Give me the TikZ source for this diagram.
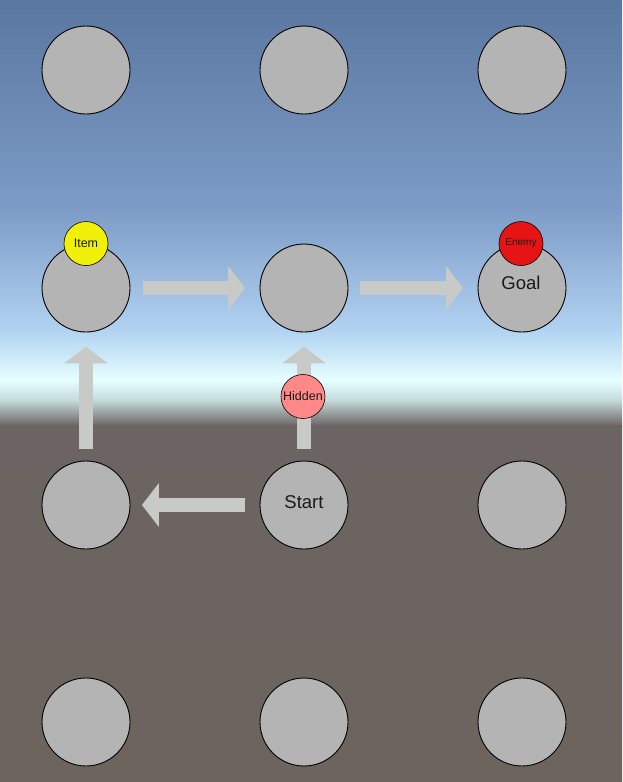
\documentclass[tikz,border=0pt]{standalone}
\usepackage{fontspec}
\setmainfont{Liberation Sans}
\usetikzlibrary{arrows.meta,calc}
\definecolor{skyTop}{HTML}{5A77A0}
\definecolor{skyMid}{HTML}{7D9CC7}
\definecolor{skyLow}{HTML}{B2D2F2}
\definecolor{skyGlow}{HTML}{E6FFFF}
\definecolor{skyHaze}{HTML}{C4DADA}
\definecolor{groundTop}{HTML}{6B6462}
\definecolor{groundLow}{HTML}{6D645E}
\definecolor{spotGrey}{HTML}{B4B4B4}
\definecolor{moveGrey}{HTML}{C8CAC8}
\definecolor{itemYellow}{HTML}{F0F00A}
\definecolor{enemyRed}{HTML}{E61414}
\definecolor{hiddenPink}{HTML}{FF8888}
\definecolor{textDark}{HTML}{1A1A1A}

\begin{document}
\begin{tikzpicture}[
    x=1pt, y=-1pt,
    spot/.style={circle, draw=black, line width=0.9pt, fill=spotGrey,
                 minimum size=88pt, inner sep=0pt},
    marker/.style={circle, draw=black, line width=0.6pt, minimum size=44pt,
                   inner sep=0pt, text=textDark, font=\fontsize{12.5}{13}\selectfont},
    tag/.style={text=textDark, font=\fontsize{18.5}{20}\selectfont},
    move/.style={draw=moveGrey, line width=14pt,
                 -{Triangle[length=17pt,width=44pt,line width=0pt]}}
]
\useasboundingbox (0,0) rectangle (622,782);

% -- sky and ground
\shade[top color=skyTop, bottom color=skyMid] (0,0) rectangle (622,211);
\shade[top color=skyMid, bottom color=skyLow] (0,210) rectangle (622,331);
\shade[top color=skyLow, bottom color=skyGlow] (0,330) rectangle (622,381);
\shade[top color=skyGlow, bottom color=skyHaze] (0,380) rectangle (622,401);
\shade[top color=skyHaze, bottom color=groundTop] (0,400) rectangle (622,426);
\shade[top color=groundTop, bottom color=groundLow] (0,425) rectangle (622,782);

% -- grid of spots
\foreach \i/\x in {0/86,1/304,2/522}
  \foreach \j/\y in {0/70,1/288,2/505,3/722}
    \node[spot] (c-\i-\j) at (\x,\y) {};

\node[tag] (start) at ($(c-1-2)+(0,-3)$) {Start};
\node[tag] (goal) at ($(c-2-1)+(-1,-5)$) {Goal};

% -- moves
\draw[move, shorten <=12.5pt, shorten >=14.5pt] (c-0-1) -- (c-1-1);
\draw[move, shorten <=11.5pt, shorten >=14.5pt] (c-1-1) -- (c-2-1);
\draw[move, shorten <=14.5pt, shorten >=11.5pt] (c-1-2) -- (c-0-2);
\draw[move, shorten <=12pt, shorten >=14pt] (c-0-2) -- (c-0-1);
\draw[move, shorten <=12pt, shorten >=14pt] (c-1-2) -- (c-1-1);

% -- markers
\node[marker, fill=itemYellow] (item) at (c-0-1.north) {Item};
\node[marker, fill=enemyRed, font=\fontsize{10}{11}\selectfont] (enemy)
  at ($(c-2-1.north)+(-1,0)$) {Enemy};
\node[marker, fill=hiddenPink] (hidden) at ($(c-1-1)!0.5!(c-1-2)+(-1,0)$) {Hidden};

\end{tikzpicture}
\end{document}
